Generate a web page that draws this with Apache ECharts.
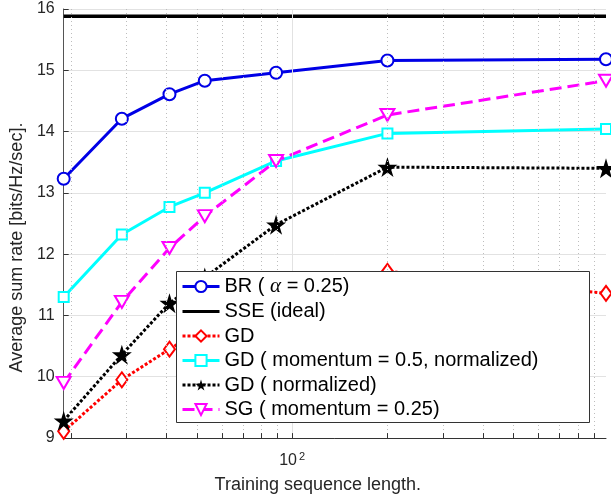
<!DOCTYPE html>
<html>
<head>
<meta charset="utf-8">
<script src="https://cdn.jsdelivr.net/npm/echarts@6/dist/echarts.min.js"></script>
<style>
html, body { margin: 0; padding: 0; background: #fff; }
#chart { width: 611px; height: 499px; }
</style>
</head>
<body>
<div id="chart"></div>
<script>
// data
var lengths = [19, 29, 41, 53, 89, 200, 980];
var brRate = [13.23, 14.21, 14.61, 14.83, 14.96, 15.16, 15.18];
var sseRate = [15.88, 15.88, 15.88, 15.88, 15.88, 15.88, 15.88];
var gdRate = [9.11, 9.95, 10.45, 10.80, 11.25, 11.72, 11.36];
var gdMomRate = [11.30, 12.32, 12.77, 13.00, 13.52, 13.97, 14.04];
var gdNormRate = [9.28, 10.36, 11.20, 11.62, 12.48, 13.42, 13.40];
var sgRate = [9.90, 11.22, 12.10, 12.62, 13.52, 14.27, 14.83];
var minorX = [20, 30, 40, 50, 60, 70, 80, 90, 200, 300, 400, 500, 600, 700, 800, 900];
var majorX = [100];
var yMin = 9, yMax = 16, yStep = 1;

var names = ['BR ( α = 0.25)', 'SSE (ideal)', 'GD', 'GD ( momentum = 0.5, normalized)',
             'GD ( normalized)', 'SG ( momentum = 0.25)'];
var starPath = 'path://M50,0 L61,35 L98,35 L68,57 L79,91 L50,70 L21,91 L32,57 L2,35 L39,35 Z';

var pairs = function(ys){
	var out = [];
	for (var i = 0; i < lengths.length; i++) out.push([lengths[i], ys[i]]);
	return out;
};

// grid lines + ticks of the log axis (MATLAB style)
var gridLines = [];
minorX.forEach(function(v){
	gridLines.push({xAxis: v, lineStyle: {type: [1, 3], color: '#bdbdbd', width: 1}});
});
majorX.forEach(function(v){
	gridLines.push({xAxis: v, lineStyle: {type: 'solid', color: '#e2e2e2', width: 1}});
});
minorX.concat(majorX).forEach(function(v){
	gridLines.push([{coord: [v, yMin], lineStyle: {type: 'solid', color: '#333', width: 1}},
	                {coord: [v, yMin + 0.08]}]);
});

var myChart = echarts.init(document.getElementById('chart'));
var option = {
	animation: false,
	backgroundColor: '#fff',
	grid: {left: 62, right: 5, top: 9, bottom: 61},
	// legend frame (MATLAB style box, wider than its text), on its own layer above the lines
	graphic: [{
		type: 'rect', left: 176, top: 271, zlevel: 1, z: 1, silent: true,
		shape: {width: 413, height: 151},
		style: {fill: '#fff', stroke: '#333', lineWidth: 1}
	}],
	legend: {
		data: names,
		orient: 'vertical',
		left: 176, top: 271,
		padding: [5, 0, 4, 5],
		itemGap: 4.5,
		itemWidth: 37, itemHeight: 14,
		zlevel: 1, z: 20,
		lineStyle: {width: 3},
		textStyle: {fontFamily: 'Liberation Sans', fontSize: 20, color: '#000', lineHeight: 20,
			rich: {
				t: {fontFamily: 'Liberation Sans', fontSize: 20, color: '#000'},
				g: {fontFamily: 'Liberation Serif', fontStyle: 'italic', fontSize: 21, color: '#000'}
			}},
		formatter: function(name){
			if (name === names[0]) return '{t|BR ( }{g|α}{t| = 0.25)}';
			return name;
		}
	},
	xAxis: {
		type: 'log', logBase: 10,
		min: lengths[0], max: lengths[lengths.length - 1],
		name: 'Training sequence length.',
		nameLocation: 'middle', nameGap: 38,
		nameTextStyle: {fontFamily: 'Liberation Sans', fontSize: 18, color: '#262626', padding: [0, 34, 0, 0]},
		axisLine: {lineStyle: {color: '#333', width: 1}},
		axisTick: {show: false},
		splitLine: {show: false},
		axisLabel: {
			margin: 13,
			formatter: function(v){
				return Math.abs(v - 100) < 1e-6 ? '{b|10}{s|2}' : '';
			},
			rich: {
				b: {fontFamily: 'Liberation Sans', fontSize: 16, color: '#262626'},
				s: {fontFamily: 'Liberation Sans', fontSize: 11, color: '#262626', verticalAlign: 'top', padding: [0, 0, 8, 2]}
			}
		}
	},
	yAxis: {
		type: 'value', min: yMin, max: yMax, interval: yStep,
		name: 'Average sum rate [bits/Hz/sec].',
		nameLocation: 'middle', nameGap: 34, nameRotate: 90,
		nameTextStyle: {fontFamily: 'Liberation Sans', fontSize: 18, color: '#262626', padding: [0, 48, 0, 0]},
		axisLine: {show: true, lineStyle: {color: '#555', width: 1}},
		axisTick: {show: true, inside: true, length: 5, lineStyle: {color: '#333'}},
		axisLabel: {fontFamily: 'Liberation Sans', fontSize: 16, color: '#262626', margin: 9},
		splitLine: {lineStyle: {color: '#e2e2e2', width: 1}}
	},
	series: [
		{
			name: '_grid', type: 'line', data: pairs(sseRate), symbol: 'none',
			lineStyle: {width: 0, opacity: 0}, silent: true, z: 1,
			markLine: {silent: true, symbol: 'none', label: {show: false}, data: gridLines}
		},
		{
			name: names[2], type: 'line', data: pairs(gdRate),
			symbol: 'emptyDiamond', symbolSize: [11, 15],
			itemStyle: {color: '#ff0000', borderWidth: 2.5},
			lineStyle: {color: '#ff0000', width: 3, type: [3, 2]}
		},
		{
			name: names[4], type: 'line', data: pairs(gdNormRate),
			symbol: starPath, symbolSize: 20,
			itemStyle: {color: '#000'},
			lineStyle: {color: '#000', width: 3, type: [3, 2]}
		},
		{
			name: names[3], type: 'line', data: pairs(gdMomRate),
			symbol: 'emptyRect', symbolSize: 10,
			itemStyle: {color: '#00ffff', borderWidth: 2.5},
			lineStyle: {color: '#00ffff', width: 3}
		},
		{
			name: names[5], type: 'line', data: pairs(sgRate),
			symbol: 'emptyTriangle', symbolSize: [14, 12], symbolRotate: 180,
			itemStyle: {color: '#ff00ff', borderWidth: 2.5},
			lineStyle: {color: '#ff00ff', width: 3, type: [12, 6]}
		},
		{
			name: names[0], type: 'line', data: pairs(brRate),
			symbol: 'emptyCircle', symbolSize: 12,
			itemStyle: {color: '#0000e6', borderWidth: 2.5},
			lineStyle: {color: '#0000e6', width: 3}
		},
		{
			name: names[1], type: 'line', data: pairs(sseRate), symbol: 'none',
			itemStyle: {color: 'rgba(0,0,0,0)'},
			lineStyle: {color: '#000', width: 3.5}
		}
	]
};
myChart.setOption(option);
</script>
</body>
</html>
